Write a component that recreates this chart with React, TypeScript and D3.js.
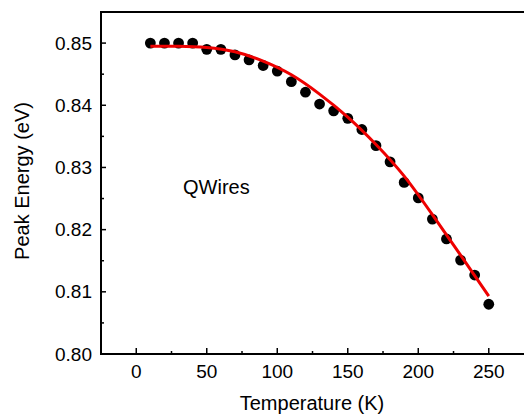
import React from "react";
import * as d3 from "d3";

const temps = [10, 20, 30, 40, 50, 60, 70, 80, 90, 100, 110, 120, 130, 140, 150, 160, 170, 180, 190, 200, 210, 220, 230, 240, 250];
const energies = [0.85, 0.85, 0.85, 0.85, 0.849, 0.849, 0.8481, 0.8473, 0.8464, 0.8455, 0.8438, 0.8421, 0.8402, 0.8391, 0.8379, 0.8361, 0.8335, 0.8309, 0.8276, 0.8251, 0.8217, 0.8185, 0.8151, 0.8127, 0.808];
const fitT = [10, 30, 50, 70, 90, 110, 130, 150, 170, 190, 210, 230, 250];
const fitE = [0.8495, 0.8495, 0.8493, 0.8486, 0.8471, 0.8449, 0.8418, 0.8381, 0.8337, 0.8286, 0.8224, 0.8159, 0.8093];
const xTicks = [0, 50, 100, 150, 200, 250];
const xMinor = [25, 75, 125, 175, 225];
const yTicks = [0.8, 0.81, 0.82, 0.83, 0.84, 0.85];
const yMinor = [0.805, 0.815, 0.825, 0.835, 0.845];

const W = 524, H = 418;
const L = 101, R = 526, T = 12, B = 354;
const FONT = "'Liberation Sans', Arial, Helvetica, sans-serif";

export default function App() {
  const x = d3.scaleLinear().domain([-25, 276.4]).range([L, R]);
  const y = d3.scaleLinear().domain([0.8, 0.855]).range([B, T]);
  const line = d3
    .line<number>()
    .x((_, i) => x(fitT[i]))
    .y((d) => y(d))
    .curve(d3.curveNatural);

  return (
    <svg width={W} height={H} style={{ position: "absolute", left: 0, top: 0, background: "#fff" }} fontFamily={FONT}>
      <rect x={0} y={0} width={W} height={H} fill="#fff" />
      <line x1={L} y1={T} x2={R} y2={T} stroke="#000" strokeWidth={2} />
      <line x1={L} y1={T - 1} x2={L} y2={B + 1} stroke="#000" strokeWidth={2} />
      <line x1={L - 1} y1={B} x2={R} y2={B} stroke="#000" strokeWidth={2} />
      {xTicks.map((t) => (
        <g key={"xt" + t}>
          <line x1={x(t)} x2={x(t)} y1={B} y2={B - 6} stroke="#000" strokeWidth={1.5} />
          <text x={x(t)} y={378} textAnchor="middle" fontSize={19} fill="#000">
            {t}
          </text>
        </g>
      ))}
      {xMinor.map((t) => (
        <line key={"xm" + t} x1={x(t)} x2={x(t)} y1={B} y2={B - 3} stroke="#000" strokeWidth={1.5} />
      ))}
      {yTicks.map((t) => (
        <g key={"yt" + t}>
          <line x1={L} x2={L + 5} y1={y(t)} y2={y(t)} stroke="#000" strokeWidth={1.5} />
          <text x={92} y={y(t)} dy="0.35em" textAnchor="end" fontSize={19} fill="#000">
            {t.toFixed(2)}
          </text>
        </g>
      ))}
      {yMinor.map((t) => (
        <line key={"ym" + t} x1={L} x2={L + 3} y1={y(t)} y2={y(t)} stroke="#000" strokeWidth={1.5} />
      ))}
      {temps.map((t, i) => (
        <circle key={"p" + t} cx={x(t)} cy={y(energies[i])} r={5.4} fill="#000" />
      ))}
      <path d={line(fitE) || ""} fill="none" stroke="#ee0000" strokeWidth={3} />
      <text x={183} y={194} fontSize={20} fill="#000">
        QWires
      </text>
      <text x={312} y={410} textAnchor="middle" fontSize={20} fill="#000">
        Temperature (K)
      </text>
      <text transform={`translate(29, 181) rotate(-90)`} textAnchor="middle" fontSize={20} fill="#000">
        Peak Energy (eV)
      </text>
    </svg>
  );
}
